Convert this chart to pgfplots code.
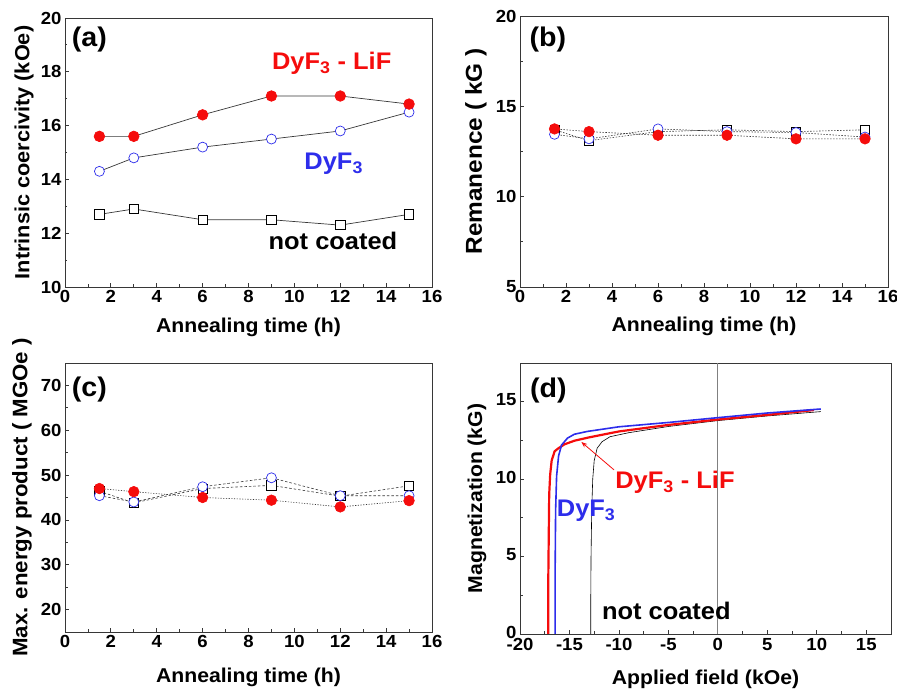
\documentclass[border=0pt]{standalone}
\usepackage{fontspec}
\setmainfont[FakeStretch=1.06]{Liberation Sans}
\usepackage{pgfplots}
\pgfplotsset{compat=1.18}
\usetikzlibrary{arrows.meta}

\definecolor{dred}{RGB}{245,12,12}
\definecolor{dblue}{RGB}{45,45,235}
\definecolor{axgray}{RGB}{55,55,55}

\pgfplotsset{
  panel/.style={
    scale only axis, width=367pt, height=269pt,
    axis line style={axgray, line width=0.9pt},
    tick pos=left, tick align=inside,
    major tick length=4pt, minor tick length=2.5pt,
    tick style={axgray, line width=0.8pt},
    minor tick num=1,
    /pgf/number format/assume math mode=true,
    tick label style={font=\fontsize{17.5}{17.5}\selectfont\bfseries},
    clip=false,
  },
  xlab/.style={every axis x label/.style={at={(axis description cs:0.5,0)}, anchor=base,
      yshift=#1, font=\fontsize{20}{20}\selectfont\bfseries}},
  ylab/.style 2 args={every axis y label/.style={at={(axis description cs:0,0.5)}, xshift=#1,
      rotate=90, anchor=center, font=\fontsize{#2}{#2}\selectfont\bfseries}},
  nc/.style={axgray, mark=square*, mark size=4.6pt, mark options={solid, fill=white, draw=black, line width=0.7pt}},
  dy/.style={axgray, mark=*, mark size=5pt, mark options={solid, fill=white, draw=dblue, line width=0.7pt}},
  dl/.style={axgray, mark=*, mark size=5.3pt, mark options={solid, fill=dred, draw=dred}},
}
\newcommand{\ann}{\fontsize{24}{24}\selectfont\bfseries}
\newcommand{\plab}{\fontsize{27}{27}\selectfont\bfseries}

\begin{document}
\begin{tikzpicture}
\useasboundingbox (0,0) rectangle (897pt,693pt);

% (a) coercivity
\begin{axis}[panel, at={(65pt,406pt)}, anchor=south west,
  xmin=0, xmax=16, ymin=10, ymax=20,
  xtick={0,2,...,16}, ytick={10,12,...,20},
  xlab=-46pt, ylab={-41pt}{20.5},
  xlabel={Annealing time (h)}, ylabel={Intrinsic coercivity (kOe)}]
  \addplot[nc, line width=0.7pt] coordinates {(1.5,12.7) (3,12.9) (6,12.5) (9,12.5) (12,12.3) (15,12.7)};
  \addplot[dy, line width=0.7pt] coordinates {(1.5,14.3) (3,14.8) (6,15.2) (9,15.5) (12,15.8) (15,16.5)};
  \addplot[dl, line width=0.7pt] coordinates {(1.5,15.6) (3,15.6) (6,16.4) (9,17.1) (12,17.1) (15,16.8)};
  \node[anchor=base west, inner sep=0] at (axis cs:0.29,18.95) {\plab (a)};
  \node[anchor=base west, inner sep=0, text=dred] at (axis cs:9.02,18.08) {\ann DyF\textsubscript{3} - LiF};
  \node[anchor=base west, inner sep=0, text=dblue] at (axis cs:10.43,14.36) {\ann DyF\textsubscript{3}};
  \node[anchor=base west, inner sep=0] at (axis cs:8.87,11.41) {\ann not coated};
\end{axis}

% (b) remanence
\begin{axis}[panel, at={(520pt,406pt)}, anchor=south west, width=368pt, height=271pt,
  xmin=0, xmax=16, ymin=5, ymax=20,
  xtick={0,2,...,16}, ytick={5,10,15,20},
  xlab=-45pt, ylab={-44pt}{23},
  xlabel={Annealing time (h)}, ylabel={Remanence ( kG )}]
  \addplot[nc, line width=0.6pt, dash pattern=on 1.5pt off 1.5pt] coordinates {(1.5,13.7) (3,13.1) (6,13.6) (9,13.7) (12,13.6) (15,13.7)};
  \addplot[dy, line width=0.6pt, dash pattern=on 1.5pt off 1.5pt] coordinates {(1.5,13.45) (3,13.2) (6,13.75) (9,13.6) (12,13.55) (15,13.3)};
  \addplot[dl, line width=0.6pt, dash pattern=on 1.5pt off 1.5pt] coordinates {(1.5,13.75) (3,13.6) (6,13.4) (9,13.4) (12,13.2) (15,13.2)};
  \node[anchor=base west, inner sep=0] at (axis cs:0.41,18.3) {\plab (b)};
\end{axis}

% (c) max energy product
\begin{axis}[panel, at={(65pt,61pt)}, anchor=south west,
  xmin=0, xmax=16, ymin=15, ymax=75,
  xtick={0,2,...,16}, ytick={20,30,...,70},
  xlab=-51pt, ylab={-43pt}{21},
  xlabel={Annealing time (h)}, ylabel={Max. energy product ( MGOe )}]
  \addplot[nc, line width=0.6pt, dash pattern=on 2.5pt off 2pt] coordinates {(1.5,46.4) (3,43.8) (6,47.0) (9,47.7) (12,45.3) (15,47.6)};
  \addplot[dy, line width=0.6pt, dash pattern=on 2.5pt off 2pt] coordinates {(1.5,45.4) (3,44.0) (6,47.4) (9,49.4) (12,45.4) (15,45.4)};
  \addplot[dl, line width=0.6pt, dash pattern=on 1.2pt off 1.5pt] coordinates {(1.5,47.0) (3,46.3) (6,45.0) (9,44.4) (12,42.9) (15,44.3)};
  \node[anchor=base west, inner sep=0] at (axis cs:0.29,67.5) {\plab (c)};
\end{axis}

% (d) demagnetization curves
\begin{axis}[panel, at={(520pt,59pt)}, anchor=south west, width=371pt, height=271pt,
  xmin=-20, xmax=17.5, ymin=0, ymax=17.5,
  xtick={-20,-15,...,15}, ytick={0,5,10,15},
  xticklabel style={yshift=-1pt}, yticklabel style={yshift=2pt},
  xlab=-51pt, ylab={-43pt}{20},
  xlabel={Applied field (kOe)}, ylabel={Magnetization (kG)}]
  \addplot[gray, line width=1pt] coordinates {(0,0) (0,17.5)};
  \addplot[black, line width=0.6pt] coordinates {(10.4,14.36) (5,14.08) (0,13.78) (-5,13.4) (-9,13.0) (-10.9,12.74) (-11.7,12.42) (-12.2,12.0) (-12.5,11.2) (-12.65,10.0) (-12.75,8) (-12.82,5) (-12.85,2) (-12.85,0)};
  \addplot[dred, line width=2.2pt] coordinates {(9.7,14.46) (5,14.15) (0,13.85) (-5,13.5) (-10,13.08) (-13,12.7) (-14.5,12.48) (-15.5,12.25) (-16.1,12.0) (-16.5,11.8) (-16.8,11.2) (-16.95,10.3) (-17.05,9) (-17.1,6) (-17.15,3) (-17.15,0)};
  \addplot[dblue, line width=1.6pt] coordinates {(10.4,14.53) (5,14.27) (0,13.97) (-5,13.66) (-10,13.38) (-13.2,13.08) (-14.5,12.9) (-15.2,12.65) (-15.8,12.2) (-16.1,11.5) (-16.3,10.2) (-16.4,8) (-16.45,4) (-16.45,0)};
  \draw[dred, line width=0.8pt, -{Stealth[length=6pt]}] (axis cs:-10.5,10.6) -- (axis cs:-13.8,12.4);
  \node[anchor=base west, inner sep=0] at (axis cs:-18.99,15.3) {\plab (d)};
  \node[anchor=base west, inner sep=0, text=dred] at (axis cs:-10.38,9.41) {\ann DyF\textsubscript{3} - LiF};
  \node[anchor=base west, inner sep=0, text=dblue] at (axis cs:-16.29,7.58) {\ann DyF\textsubscript{3}};
  \node[anchor=base west, inner sep=0] at (axis cs:-11.73,0.95) {\ann not coated};
\end{axis}
\end{tikzpicture}
\end{document}
